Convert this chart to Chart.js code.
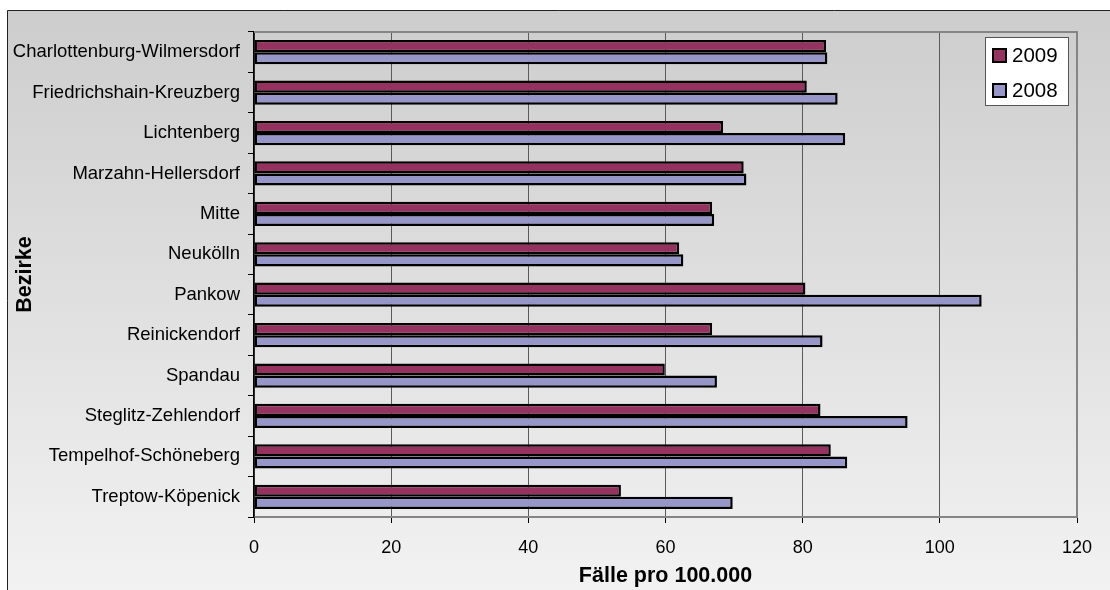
<!DOCTYPE html>
<html>
<head>
<meta charset="utf-8">
<script src="https://cdn.jsdelivr.net/npm/chart.js@4.4.1/dist/chart.umd.min.js"></script>
<style>
  body { margin: 0; background: #fff; }
  #wrap { width: 1110px; height: 590px; }
</style>
</head>
<body>
<div id="wrap"><canvas id="myChart" width="1110" height="590"></canvas></div>
<script>
// Data
const bezirke = ['Charlottenburg-Wilmersdorf', 'Friedrichshain-Kreuzberg', 'Lichtenberg', 'Marzahn-Hellersdorf',
    'Mitte', 'Neukölln', 'Pankow', 'Reinickendorf', 'Spandau', 'Steglitz-Zehlendorf', 'Tempelhof-Schöneberg', 'Treptow-Köpenick'];
const faelle2009 = [83.4, 80.6, 68.4, 71.4, 66.8, 62.0, 80.4, 66.8, 59.9, 82.6, 84.1, 53.5];
const faelle2008 = [83.6, 85.1, 86.2, 71.8, 67.1, 62.6, 106.1, 82.9, 67.5, 95.3, 86.5, 69.8];
const seriesNames = ['2009', '2008'];
const xMin = 0, xMax = 120, xStep = 20;

const FONT = "'Liberation Sans', Arial, sans-serif";
const PAD_LEFT = 8, PAD_BOTTOM = 1;

// Excel-like gradient background with a frame line on top and left
const backgroundPlugin = {
    id: 'background',
    beforeDraw(chart) {
        const ctx = chart.ctx;
        ctx.save();
        ctx.fillStyle = '#ffffff';
        ctx.fillRect(0, 0, chart.width, chart.height);
        const grad = ctx.createLinearGradient(0, 10, 0, chart.height);
        grad.addColorStop(0, '#cdcdcd');
        grad.addColorStop(1, '#f2f2f2');
        ctx.fillStyle = grad;
        ctx.fillRect(7, 10, chart.width - 7, chart.height - 10);
        ctx.strokeStyle = '#222';
        ctx.lineWidth = 1;
        ctx.beginPath();
        ctx.moveTo(7.5, chart.height);
        ctx.lineTo(7.5, 10.5);
        ctx.lineTo(chart.width, 10.5);
        ctx.stroke();
        ctx.restore();
    }
};

// Gray top/right edge of the plot area and the boxed legend
const plotBoxPlugin = {
    id: 'plotBox',
    afterDraw(chart) {
        const ctx = chart.ctx;
        const a = chart.chartArea;
        ctx.save();
        ctx.strokeStyle = '#858585';
        ctx.lineWidth = 2;
        ctx.beginPath();
        ctx.moveTo(a.left, a.top);
        ctx.lineTo(a.right, a.top);
        ctx.lineTo(a.right, a.bottom);
        ctx.stroke();

        // legend
        const boxW = 84, boxH = 69;
        const bx = a.right - 8 - boxW, by = a.top + 5;
        ctx.fillStyle = '#ffffff';
        ctx.fillRect(bx, by, boxW, boxH);
        ctx.strokeStyle = '#555';
        ctx.lineWidth = 1;
        ctx.strokeRect(bx + 0.5, by + 0.5, boxW - 1, boxH - 1);
        ctx.font = '20.5px ' + FONT;
        ctx.textBaseline = 'middle';
        ctx.textAlign = 'left';
        chart.data.datasets.forEach((ds, i) => {
            const cy = by + 18 + i * 35;
            ctx.fillStyle = ds.backgroundColor;
            ctx.fillRect(bx + 8, cy - 6, 13, 13);
            ctx.strokeStyle = '#000';
            ctx.lineWidth = 2;
            ctx.strokeRect(bx + 8, cy - 6, 13, 13);
            ctx.fillStyle = '#000';
            ctx.fillText(ds.label, bx + 27, cy + 1);
        });
        ctx.restore();
    }
};

const ctx = document.getElementById('myChart').getContext('2d');
const myChart = new Chart(ctx, {
    type: 'bar',
    data: {
        labels: bezirke,
        datasets: [{
            label: seriesNames[0],
            data: faelle2009,
            backgroundColor: '#953260',
            borderColor: '#000000',
            borderWidth: 2.5,
            borderSkipped: false,
            barPercentage: 1.0,
            categoryPercentage: 0.6
        }, {
            label: seriesNames[1],
            data: faelle2008,
            backgroundColor: '#9796c9',
            borderColor: '#000000',
            borderWidth: 2.5,
            borderSkipped: false,
            barPercentage: 1.0,
            categoryPercentage: 0.6
        }]
    },
    options: {
        indexAxis: 'y',
        responsive: false,
        animation: false,
        devicePixelRatio: 1,
        layout: {
            padding: { left: PAD_LEFT, top: 32, right: 33, bottom: PAD_BOTTOM }
        },
        plugins: {
            legend: { display: false },
            tooltip: { enabled: false }
        },
        scales: {
            x: {
                min: xMin,
                max: xMax,
                ticks: {
                    stepSize: xStep,
                    color: '#000',
                    font: { family: FONT, size: 18 },
                    padding: 14,
                    maxRotation: 0
                },
                grid: {
                    color: '#5a5a5a',
                    lineWidth: 1,
                    tickColor: '#000',
                    tickLength: 6
                },
                border: { color: '#858585', width: 2 },
                title: {
                    display: true,
                    text: 'Fälle pro 100.000',
                    color: '#000',
                    font: { family: FONT, size: 21.5, weight: 'bold' },
                    padding: { top: 4, bottom: 0 }
                },
                afterFit(scale) { scale.height = 590 - PAD_BOTTOM - 517; }
            },
            y: {
                ticks: {
                    color: '#000',
                    font: { family: FONT, size: 18.5 },
                    padding: 8,
                    autoSkip: false
                },
                grid: {
                    drawOnChartArea: false,
                    color: '#000',
                    tickLength: 6,
                    offset: true
                },
                border: { color: '#000', width: 1.5 },
                title: {
                    display: true,
                    text: 'Bezirke',
                    color: '#000',
                    font: { family: FONT, size: 21.5, weight: 'bold' },
                    padding: { top: 4, bottom: 4 }
                },
                afterFit(scale) { scale.width = 254 - PAD_LEFT; }
            }
        }
    },
    plugins: [backgroundPlugin, plotBoxPlugin]
});
</script>
</body>
</html>
